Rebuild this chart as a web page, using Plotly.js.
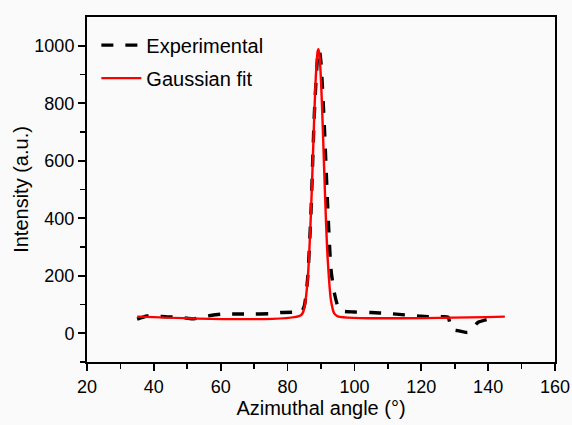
<!DOCTYPE html>
<html>
<head>
<meta charset="utf-8">
<script src="https://cdn.plot.ly/plotly-3.0.1.min.js"></script>
<style>html,body{margin:0;padding:0;background:#fafafa;}</style>
</head>
<body>
<div id="chart" style="width:572px;height:425px;"></div>
<script>
// Experimental azimuthal profile
const expAngle = [35, 38, 41, 44, 47, 50, 52, 55, 60, 65, 70, 75, 78, 82, 84, 85, 86, 87, 88, 89, 89.5, 90, 91, 92, 93, 94, 95, 96, 100, 105, 110, 115, 120, 125, 128, 129, 131, 134, 137, 141, 142];
const expIntensity = [49, 60, 59, 57, 57, 52, 50, 58, 66, 67, 67, 68, 72, 73, 72, 95, 190, 420, 760, 960, 985, 940, 720, 440, 220, 140, 95, 78, 74, 72, 69, 64, 59, 57, 56, 14, 9, 3, 38, 52, 55];

// Gaussian fit curve
const fitAngle = [35, 84, 85, 86, 87, 87.5, 88, 88.5, 89, 89.2, 89.5, 90, 90.5, 91, 91.5, 92, 93, 94, 95, 145];
const fitIntensity = [58, 63, 88, 184, 420, 587, 760, 903, 981, 988, 972, 879, 727, 552, 389, 259, 113, 68, 59, 58];

const font = "Liberation Sans, Arial, sans-serif";

const traces = [
  {
    x: expAngle, y: expIntensity, name: "Experimental", mode: "lines", legendgroup: "a",
    line: {color: "#000000", width: 3.4, dash: "12px,12px", shape: "spline", smoothing: 0.6}
  },
  {
    x: fitAngle, y: fitIntensity, name: "Gaussian fit", mode: "lines", legendgroup: "b",
    line: {color: "#ff0000", width: 2.4, shape: "spline", smoothing: 0.8}
  }
];

const axisCommon = {
  showgrid: false, zeroline: false,
  showline: true, linecolor: "#000", linewidth: 2, mirror: true,
  ticks: "outside", ticklen: 7, tickwidth: 1.6, tickcolor: "#000",
  tickfont: {family: font, size: 18, color: "#000"},
};

const layout = {
  width: 572, height: 425,
  margin: {l: 87, r: 17, t: 17, b: 63},
  paper_bgcolor: "#fafafa", plot_bgcolor: "#fafafa",
  showlegend: true,
  legend: {
    x: 0.02, y: 0.975, xanchor: "left", yanchor: "top",
    bgcolor: "rgba(0,0,0,0)", itemwidth: 40, tracegroupgap: 4,
    font: {family: font, size: 20, color: "#000"}
  },
  xaxis: Object.assign({}, axisCommon, {
    range: [20, 160], tickmode: "array",
    tickvals: [20, 40, 60, 80, 100, 120, 140, 160],
    minor: {tickmode: "array", tickvals: [30, 50, 70, 90, 110, 130, 150], ticks: "outside", ticklen: 5, tickwidth: 1.6, tickcolor: "#000"},
    title: {text: "Azimuthal angle (°)", font: {family: font, size: 20, color: "#000"}, standoff: 5}
  }),
  yaxis: Object.assign({}, axisCommon, {
    range: [-100, 1100], tickmode: "array",
    tickvals: [0, 200, 400, 600, 800, 1000],
    minor: {tickmode: "array", tickvals: [-100, 100, 300, 500, 700, 900], ticks: "outside", ticklen: 5, tickwidth: 1.6, tickcolor: "#000"},
    title: {text: "Intensity (a.u.)", font: {family: font, size: 20, color: "#000"}, standoff: 0}
  })
};

Plotly.newPlot("chart", traces, layout, {displayModeBar: false, staticPlot: true});
</script>
</body>
</html>
